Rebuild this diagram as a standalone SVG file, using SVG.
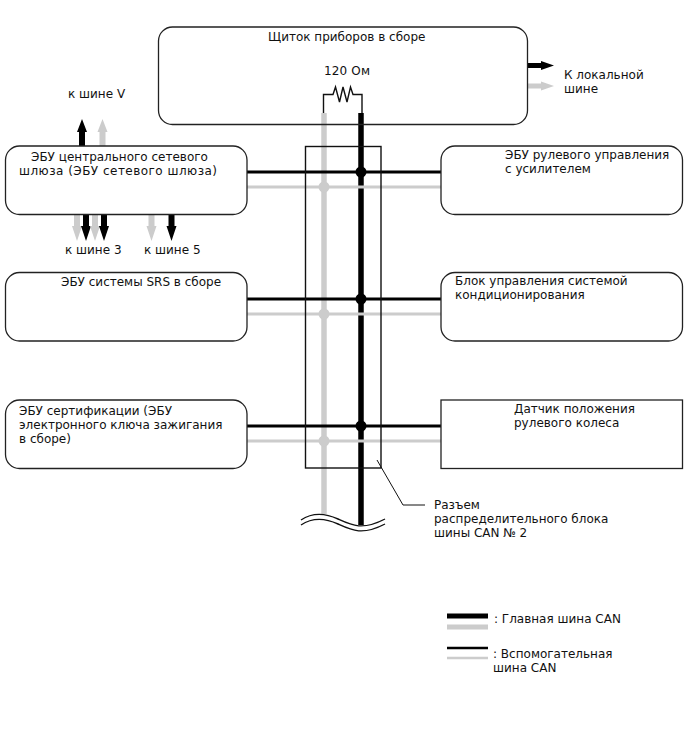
<svg xmlns="http://www.w3.org/2000/svg" width="688" height="755" viewBox="0 0 688 755">
<style>
text{font-family:"DejaVu Sans",sans-serif;font-size:12px;fill:#111}
.box{fill:#fff;stroke:#222;stroke-width:1.300}
.thin{fill:none;stroke:#111;stroke-width:1}
.res{fill:none;stroke:#111;stroke-width:1.400}
.frame{fill:none;stroke:#111;stroke-width:1.400}
.mk{stroke:#000;fill:none}
.mg{stroke:#ccc;fill:none}
</style>
<defs>
<path id="au" d="M-3 0V-14H-5L0 -27 5 -14H3V0Z"/>
<path id="ad" d="M-3 0V12H-5L0 27 5 12H3V0Z"/>
</defs>
<rect width="688" height="755" fill="#fff"/>
<g id="connectors">
<path class="mg" stroke-width="5.500" d="M324 113V514"/>
<path class="mk" stroke-width="5.500" d="M361 113V525"/>
<path class="mg" stroke-width="3" d="M247 187H441M247 314H441M247 441H441"/>
<path class="mk" stroke-width="3" d="M247 172H441M247 299H441M247 426H441"/>
<circle cx="361" cy="172" r="5.500"/><circle cx="361" cy="299" r="5.500"/><circle cx="361" cy="426" r="5.500"/>
<circle cx="324" cy="187" r="5.500" fill="#ccc"/><circle cx="324" cy="314" r="5.500" fill="#ccc"/><circle cx="324" cy="441" r="5.500" fill="#ccc"/>
<path class="res" d="M323.500 113V94.500H333L335.500 87 339.500 102 343 87 347 102 350.500 87 353 94.500H362V113"/>
<path class="thin" d="M377 460 403 505H425"/>
<path class="res" d="M301 520C313 512 325 513 338 519S362 531 385 519"/>
<path class="res" d="M301 525C313 517 325 518 338 524S362 536 385 524"/>
<use href="#au" x="82" y="146" fill="#000"/>
<use href="#au" x="102.500" y="146" fill="#ccc"/>
<use href="#ad" x="77" y="214" fill="#ccc"/>
<use href="#ad" x="86" y="214" fill="#000"/>
<use href="#ad" x="95" y="214" fill="#ccc"/>
<use href="#ad" x="104" y="214" fill="#000"/>
<use href="#ad" x="151.500" y="214" fill="#ccc"/>
<use href="#ad" x="171.500" y="214" fill="#000"/>
<path d="M528 63H541V61L554 65.500 541 70V68H528Z" fill="#000"/>
<path d="M528 83.500H541V81.500L554 86 541 90.500V88.500H528Z" fill="#ccc"/>
</g>
<g id="node-meter"><rect class="box" x="158.500" y="27" width="369" height="97.500" rx="14" fill-opacity="0"/><text x="268" y="41">Щиток приборов в сборе</text><text x="324" y="75" textLength="46">120 Ом</text></g>
<g id="junction"><rect class="frame" x="305.500" y="146.500" width="75.500" height="321.500"/></g>
<g id="node-gateway"><rect class="box" x="5.500" y="146" width="241.500" height="68.500" rx="14"/><text x="31" y="161">ЭБУ центрального сетевого</text><text x="19" y="175" textLength="198">шлюза (ЭБУ сетевого шлюза)</text></g>
<g id="node-srs"><rect class="box" x="5.500" y="272.500" width="241.500" height="68.500" rx="14"/><text x="61" y="286">ЭБУ системы SRS в сборе</text></g>
<g id="node-cert"><rect class="box" x="5.500" y="400" width="241.500" height="68.500" rx="14"/><text x="19" y="415">ЭБУ сертификации (ЭБУ</text><text x="19" y="429">электронного ключа зажигания</text><text x="19" y="443">в сборе)</text></g>
<g id="node-eps"><rect class="box" x="441" y="146" width="241.500" height="68.500" rx="14"/><text x="505" y="159">ЭБУ рулевого управления</text><text x="505" y="173">с усилителем</text></g>
<g id="node-ac"><rect class="box" x="441" y="272.500" width="241.500" height="68.500" rx="14"/><text x="455" y="285">Блок управления системой</text><text x="455" y="299">кондиционирования</text></g>
<g id="node-sensor"><rect class="box" x="441" y="400" width="241.500" height="68.500"/><text x="514" y="413">Датчик положения</text><text x="514" y="427">рулевого колеса</text></g>
<g id="labels">
<text x="68" y="98">к шине V</text><text x="65" y="254">к шине 3</text><text x="144" y="254">к шине 5</text>
<text x="564" y="79">К локальной</text><text x="564" y="93">шине</text>
<text x="434" y="509">Разъем</text><text x="434" y="523">распределительного блока</text><text x="434" y="537">шины CAN № 2</text>
<text x="494" y="623">: Главная шина CAN</text><text x="493" y="658">: Вспомогательная</text><text x="493" y="672">шина CAN</text>
</g>
<g id="legend">
<path class="mk" stroke-width="5" d="M447 616H488"/><path class="mg" stroke-width="5" d="M447 627H488"/>
<path class="mk" stroke-width="2.500" d="M447 648H488"/><path class="mg" stroke-width="2.500" d="M447 658H488"/>
</g>
</svg>
